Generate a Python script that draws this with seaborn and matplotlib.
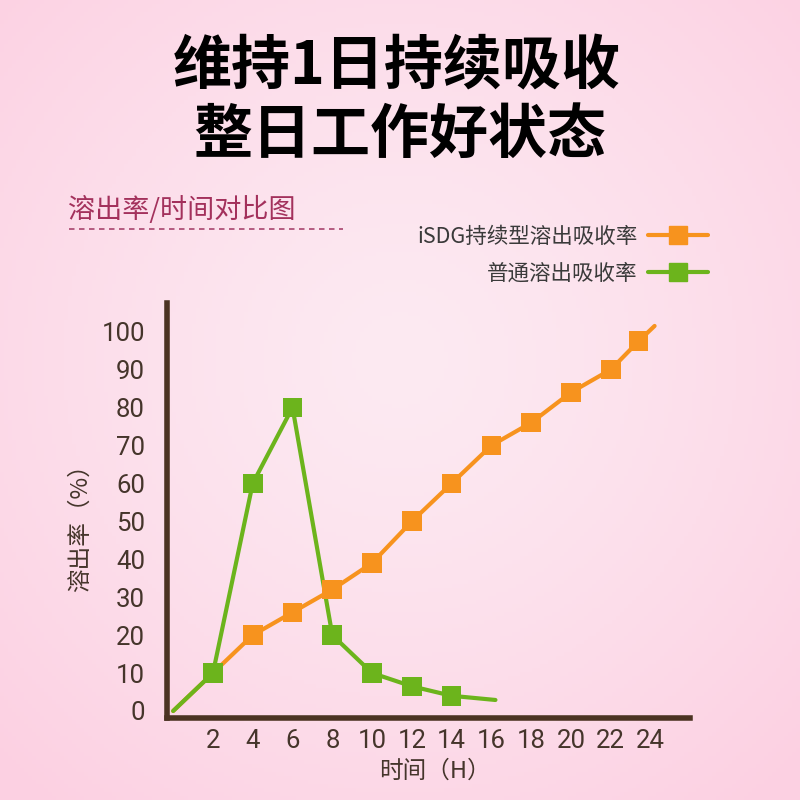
import numpy as np
import pandas as pd
import seaborn as sns
import matplotlib.pyplot as plt
from matplotlib.lines import Line2D

# data
hours_isdg = [0, 2, 4, 6, 8, 10, 12, 14, 16, 18, 20, 22, 23.4, 24.2]
rate_isdg = [0, 10, 20, 26, 32, 39, 50, 60, 70, 76, 84, 90, 97.5, 101.5]
hours_normal = [0, 2, 4, 6, 8, 10, 12, 14, 16.2]
rate_normal = [0, 10, 60, 80, 20, 10, 6.5, 4, 2.9]
x_ticks = [2, 4, 6, 8, 10, 12, 14, 16, 18, 20, 22, 24]
y_ticks = [0, 10, 20, 30, 40, 50, 60, 70, 80, 90, 100]
label_isdg = "iSDG持续型溶出吸收率"
label_normal = "普通溶出吸收率"

orange = "#F7931E"
green = "#6CB41C"
brown = "#4B3322"

sns.set_theme(style="white")
plt.rcParams['font.family'] = ['Noto Sans CJK SC', 'DejaVu Sans']

df_isdg = pd.DataFrame({"h": hours_isdg, "r": rate_isdg})
df_normal = pd.DataFrame({"h": hours_normal, "r": rate_normal})

fig = plt.figure(figsize=(8, 8), dpi=100)

# pink background, lighter in the middle
bg = fig.add_axes([0, 0, 1, 1], zorder=-10)
yy, xx = np.mgrid[0:1:200j, 0:1:200j]
d = np.sqrt((xx - 0.5) ** 2 + (yy - 0.45) ** 2)
d = np.clip(d / 0.72, 0, 1) ** 1.3
c_in = np.array([0xFD, 0xEA, 0xF2]) / 255
c_out = np.array([0xFC, 0xD0, 0xE2]) / 255
img = c_in[None, None, :] * (1 - d[..., None]) + c_out[None, None, :] * d[..., None]
bg.imshow(img, extent=[0, 1, 0, 1], aspect='auto')
bg.axis('off')

ax = fig.add_axes([0.209, 0.1025, 0.654, 0.519])
ax.patch.set_alpha(0)

sns.lineplot(data=df_isdg, x="h", y="r", ax=ax, color=orange, linewidth=3, zorder=3)
sns.lineplot(data=df_normal, x="h", y="r", ax=ax, color=green, linewidth=3, zorder=4)
sns.scatterplot(data=df_isdg.iloc[1:-1], x="h", y="r", ax=ax, color=orange,
                marker="s", s=200, edgecolor="none", zorder=5)
sns.scatterplot(data=df_normal.iloc[1:-1], x="h", y="r", ax=ax, color=green,
                marker="s", s=200, edgecolor="none", zorder=6)

ax.set_xlim(-0.3, 26)
ax.set_ylim(-1.85, 107.6)
ax.set_xticks(x_ticks)
ax.set_yticks(y_ticks)
ax.set_xticklabels([str(t) for t in x_ticks], family='Roboto')
ax.set_yticklabels([str(t) for t in y_ticks], family='Roboto')
ax.tick_params(axis='both', direction='in', length=10, width=2.2, color=brown,
               labelcolor="#45352B", labelsize=18.5)
ax.tick_params(axis='x', pad=8)
ax.tick_params(axis='y', pad=16)
ax.yaxis.get_major_ticks()[0].tick1line.set_visible(False)

for side in ['top', 'right']:
    ax.spines[side].set_visible(False)
for side in ['left', 'bottom']:
    ax.spines[side].set_color(brown)
    ax.spines[side].set_linewidth(4)

ax.set_xlabel("")
ax.set_ylabel("")
fig.text(80 / 800, 1 - 522 / 800, "溶出率（%）", rotation=90, ha='center', va='center',
         fontsize=17, color="#45352B")
fig.text(435 / 800, 1 - 771 / 800, "时间（H）", ha='center', va='center',
         fontsize=17, color="#45352B")

# title and subtitle
fig.text(0.496, 1 - 67 / 800, "维持1日持续吸收", ha='center', va='center',
         fontsize=42.5, fontweight='heavy', color='black')
fig.text(0.5, 1 - 136 / 800, "整日工作好状态", ha='center', va='center',
         fontsize=42.5, fontweight='heavy', color='black')
fig.text(68 / 800, 1 - 210 / 800, "溶出率/时间对比图", ha='left', va='center',
         fontsize=19.5, color="#A3315C")
fig.add_artist(Line2D([69 / 800, 343 / 800], [1 - 229 / 800, 1 - 229 / 800],
                      color="#A8456E", linewidth=1.2, linestyle=(0, (3.3, 2.7))))

handles = [
    Line2D([0], [0], color=orange, linewidth=3, marker='s', markersize=13),
    Line2D([0], [0], color=green, linewidth=3, marker='s', markersize=13),
]
fig.legend(handles, [label_isdg, label_normal], loc='center right',
           bbox_to_anchor=(0.909, 1 - 255 / 800), markerfirst=False, frameon=False,
           fontsize=15.5, handlelength=2.8, handletextpad=0.45, labelspacing=0.68,
           labelcolor="#3A3A3A")

fig.savefig("out.png", dpi=100)
